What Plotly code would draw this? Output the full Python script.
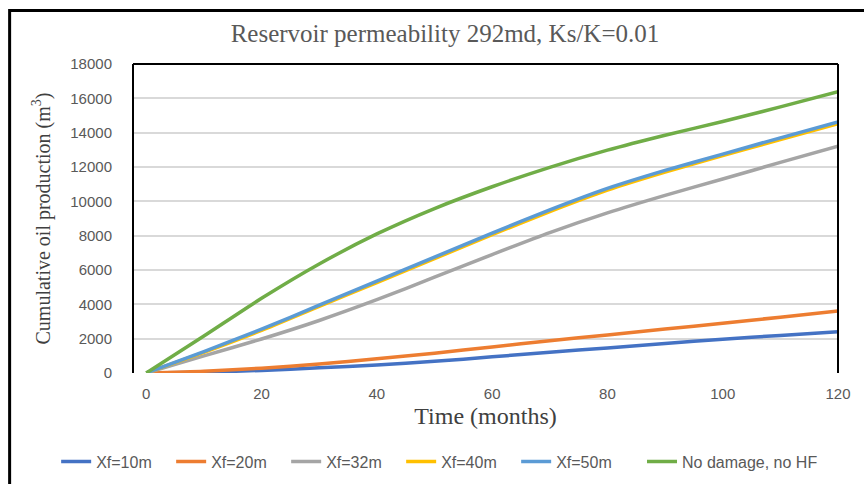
import plotly.graph_objects as go

months = [0, 10, 20, 30, 40, 50, 60, 70, 80, 90, 100, 110, 120]
xf10 = [0, 50, 150, 300, 470, 680, 940, 1210, 1460, 1720, 1970, 2190, 2400]
xf20 = [0, 100, 280, 520, 830, 1150, 1520, 1880, 2220, 2560, 2900, 3250, 3610]
xf32 = [0, 1000, 1980, 3060, 4270, 5580, 6900, 8180, 9330, 10350, 11300, 12270, 13220]
xf40 = [0, 1200, 2480, 3880, 5270, 6660, 8060, 9400, 10650, 11700, 12660, 13600, 14520]
xf50 = [0, 1250, 2550, 3950, 5350, 6750, 8150, 9500, 10750, 11800, 12750, 13700, 14620]
nodmg = [0, 2150, 4350, 6350, 8100, 9580, 10850, 11980, 12980, 13850, 14650, 15500, 16380]

series = [
    ("Xf=10m", xf10, "#4472C4", "legend"),
    ("Xf=20m", xf20, "#ED7D31", "legend"),
    ("Xf=32m", xf32, "#A5A5A5", "legend"),
    ("Xf=40m", xf40, "#FFC000", "legend"),
    ("Xf=50m", xf50, "#5B9BD5", "legend"),
    ("No damage, no HF", nodmg, "#70AD47", "legend2"),
]
ytick_vals = list(range(0, 18001, 2000))
ytick_text = [str(v) for v in ytick_vals]
xtick_vals = [0, 20, 40, 60, 80, 100, 120]

fig = go.Figure()
for name, vals, col, leg in series:
    fig.add_trace(go.Scatter(x=months, y=vals, mode="lines", name=name, legend=leg,
                             line=dict(color=col, width=3.5, shape="spline", smoothing=0.6)))

serif = "Liberation Serif, Times New Roman, serif"
sans = "Liberation Sans, Arial, sans-serif"
legfont = dict(family=sans, size=16, color="#595959")

fig.update_layout(
    width=864, height=484,
    margin=dict(l=133, r=26, t=64, b=111, autoexpand=False),
    paper_bgcolor="white", plot_bgcolor="white",
    title=dict(text="Reservoir permeability 292md, Ks/K=0.01",
               font=dict(family=serif, size=25, color="#595959"),
               x=0.515, xanchor="center", y=0.932, yanchor="middle"),
    showlegend=True,
    legend=dict(orientation="h", x=-0.109, xanchor="left", y=-0.287, yanchor="middle",
                font=legfont, entrywidth=70, entrywidthmode="pixels", tracegroupgap=0),
    legend2=dict(orientation="h", x=0.722, xanchor="left", y=-0.287, yanchor="middle",
                 font=legfont, tracegroupgap=0),
    xaxis=dict(range=[-2.3, 120], tickmode="array", tickvals=xtick_vals,
               showgrid=False, zeroline=False, showline=False, ticks="",
               ticklabelstandoff=10,
               tickfont=dict(family=sans, size=15, color="#595959"),
               title=dict(text="Time (months)", font=dict(family=serif, size=24, color="#404040"),
                          standoff=6)),
    yaxis=dict(range=[0, 18000], tickmode="array",
               tickvals=ytick_vals, ticktext=ytick_text,
               showgrid=True, gridcolor="#D9D9D9", gridwidth=1.5, zeroline=False,
               showline=False, ticks="", ticklabelstandoff=20,
               tickfont=dict(family=sans, size=15, color="#595959"),
               title=dict(text="Cumulative oil production (m<sup>3</sup>)",
                          font=dict(family=serif, size=20, color="#404040"), standoff=14)),
)

# plot frame (left, top, right black lines)
for x0, y0, x1, y1 in [(0, 0, 0, 1), (0, 1, 1, 1), (1, 0, 1, 1)]:
    fig.add_shape(type="line", xref="paper", yref="paper", x0=x0, y0=y0, x1=x1, y1=y1,
                  line=dict(color="black", width=2))
# outer chart border
fig.add_shape(type="rect", xref="paper", yref="paper", x0=-0.175, y0=-0.45, x1=1.2, y1=1.173,
              line=dict(color="black", width=3), layer="above")

fig.write_html("out.html")
